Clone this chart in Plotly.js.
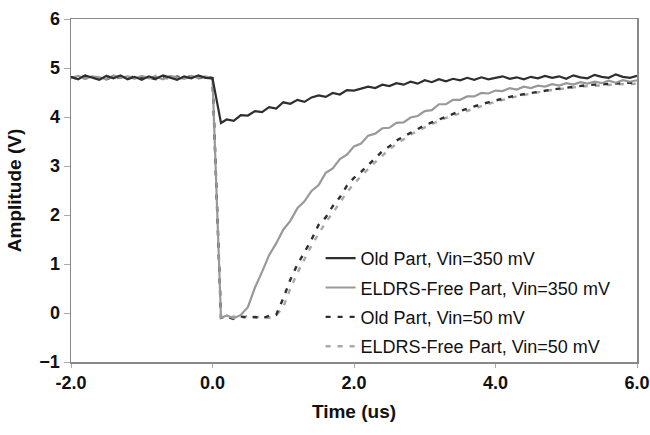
<!DOCTYPE html>
<html>
<head>
<meta charset="utf-8">
<script src="https://cdn.plot.ly/plotly-3.0.1.min.js"></script>
<style>html,body{margin:0;padding:0;background:#fff}#chart{width:650px;height:435px}</style>
</head>
<body>
<div id="chart"></div>
<script>
// Time axis (us)
const time = [-2.0,-1.9,-1.8,-1.7,-1.6,-1.5,-1.4,-1.3,-1.2,-1.1,-1.0,-0.9,-0.8,-0.7,-0.6,-0.5,-0.4,-0.3,-0.2,-0.1,0.0,
  0.12,0.2,0.3,0.4,0.5,0.6,0.7,0.8,0.9,1.0,1.1,1.2,1.3,1.4,1.5,1.6,1.7,1.8,1.9,2.0,
  2.1,2.2,2.3,2.4,2.5,2.6,2.7,2.8,2.9,3.0,3.1,3.2,3.3,3.4,3.5,3.6,3.7,3.8,3.9,4.0,
  4.1,4.2,4.3,4.4,4.5,4.6,4.7,4.8,4.9,5.0,5.1,5.2,5.3,5.4,5.5,5.6,5.7,5.8,5.9,6.0];

// Old Part, Vin=350 mV
const oldPart350 = [4.82,4.77,4.85,4.80,4.76,4.84,4.79,4.85,4.77,4.82,4.76,4.83,4.78,4.85,4.80,4.76,4.83,4.79,4.85,4.80,4.79,
  3.88,3.95,3.92,4.04,4.03,4.12,4.10,4.20,4.17,4.30,4.27,4.35,4.31,4.40,4.44,4.41,4.49,4.46,4.55,4.54,
  4.58,4.62,4.59,4.66,4.63,4.69,4.66,4.72,4.68,4.75,4.71,4.77,4.73,4.78,4.75,4.80,4.76,4.81,4.77,4.80,
  4.83,4.78,4.81,4.77,4.82,4.79,4.84,4.80,4.83,4.78,4.85,4.81,4.79,4.86,4.82,4.80,4.87,4.82,4.80,4.84];

// ELDRS-Free Part, Vin=350 mV
const eldrs350 = [4.79,4.84,4.78,4.83,4.81,4.77,4.85,4.80,4.83,4.78,4.84,4.79,4.82,4.77,4.84,4.81,4.78,4.84,4.80,4.83,4.79,
  -0.10,-0.05,-0.11,-0.04,0.12,0.52,0.84,1.18,1.42,1.70,1.88,2.14,2.28,2.49,2.61,2.86,2.95,3.14,3.23,3.40,
  3.46,3.62,3.66,3.77,3.78,3.88,3.89,3.99,4.02,4.12,4.14,4.26,4.26,4.35,4.35,4.42,4.42,4.49,4.48,4.54,
  4.53,4.59,4.56,4.62,4.59,4.64,4.62,4.67,4.64,4.69,4.66,4.71,4.68,4.72,4.69,4.74,4.70,4.75,4.72,4.75];

// Old Part, Vin=50 mV
const oldPart50 = [4.81,4.78,4.84,4.79,4.82,4.77,4.83,4.80,4.78,4.84,4.79,4.81,4.77,4.83,4.79,4.82,4.78,4.84,4.80,4.82,4.79,
  -0.10,-0.08,-0.12,-0.07,-0.10,-0.08,-0.11,-0.06,-0.04,0.30,0.68,0.99,1.24,1.50,1.80,1.95,2.18,2.36,2.60,2.76,
  2.88,3.02,3.16,3.30,3.40,3.52,3.60,3.68,3.76,3.83,3.89,3.95,4.01,4.06,4.12,4.17,4.22,4.26,4.30,4.34,
  4.38,4.41,4.44,4.47,4.49,4.51,4.54,4.56,4.58,4.60,4.62,4.63,4.65,4.66,4.67,4.68,4.69,4.69,4.70,4.70];

// ELDRS-Free Part, Vin=50 mV
const eldrs50 = [4.80,4.83,4.78,4.82,4.79,4.84,4.78,4.81,4.83,4.79,4.82,4.78,4.84,4.80,4.78,4.83,4.80,4.82,4.78,4.83,4.80,
  -0.08,-0.11,-0.07,-0.10,-0.06,-0.09,-0.07,-0.10,-0.05,0.12,0.50,0.82,1.10,1.38,1.62,1.85,2.04,2.26,2.46,2.64,
  2.80,2.94,3.08,3.22,3.34,3.45,3.55,3.64,3.72,3.79,3.86,3.92,3.98,4.03,4.08,4.13,4.18,4.23,4.27,4.31,
  4.35,4.39,4.42,4.45,4.48,4.50,4.53,4.55,4.57,4.59,4.61,4.62,4.63,4.64,4.65,4.66,4.66,4.67,4.67,4.68];

const seriesNames = ["Old Part, Vin=350 mV","ELDRS-Free Part, Vin=350 mV","Old Part, Vin=50 mV","ELDRS-Free Part, Vin=50 mV"];
const xTickVals = [-2,0,2,4,6];
const xTickText = ["-2.0","0.0","2.0","4.0","6.0"];

const styles = [
  {color:"#2e2e2e", width:2.2, dash:"solid"},
  {color:"#999999", width:2.2, dash:"solid"},
  {color:"#2e2e2e", width:2.4, dash:"5px,7px"},
  {color:"#a8a8a8", width:2.4, dash:"5px,7px"}
];
const ys = [oldPart350, eldrs350, oldPart50, eldrs50];
const order = [3,2,1,0];
const traces = [0,1,2,3].map(i => ({
  x: time, y: ys[i], type: "scatter", mode: "lines", name: seriesNames[i],
  legendgroup: "g"+i, legendrank: i+1,
  line: styles[i]
}));

const tickFont = {family:"Liberation Sans, Arial, sans-serif", size:18, color:"#111", weight:"bold"};
const titleFont = {family:"Liberation Sans, Arial, sans-serif", size:19, color:"#111", weight:"bold"};
const layout = {
  width:650, height:435,
  margin:{l:71, r:13, t:19, b:73},
  paper_bgcolor:"#fff", plot_bgcolor:"#fff",
  showlegend:true,
  legend:{x:0.441, y:0.356, xanchor:"left", yanchor:"top", bgcolor:"rgba(0,0,0,0)",
    font:{family:"Liberation Sans, Arial, sans-serif", size:18, color:"#111"},
    tracegroupgap:3, itemwidth:30, traceorder:"grouped"},
  xaxis:{range:[-2,6], tickvals:xTickVals, ticktext:xTickText, ticks:"outside", ticklen:4,
    tickcolor:"#aaa", showline:true, linecolor:"#888", linewidth:1.5, mirror:true,
    showgrid:false, zeroline:false, tickfont:tickFont,
    title:{text:"Time (us)", font:titleFont, standoff:12}},
  yaxis:{range:[-1,6], dtick:1, ticks:"outside", ticklen:6,
    tickcolor:"#aaa", showline:true, linecolor:"#888", linewidth:1.5, mirror:true,
    showgrid:false, zeroline:false, tickfont:tickFont,
    title:{text:"Amplitude (V)", font:titleFont, standoff:12}}
};
Plotly.newPlot("chart", order.map(i => traces[i]), layout, {staticPlot:true, displayModeBar:false});
</script>
</body>
</html>
